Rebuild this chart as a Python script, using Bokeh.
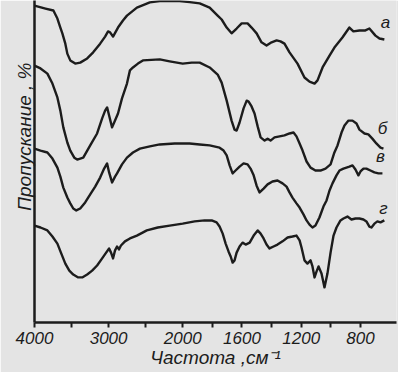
import numpy as np
from bokeh.plotting import figure
from bokeh.models import FixedTicker, Title, ColumnDataSource
from bokeh.core.properties import value
from bokeh.embed import file_html
from bokeh.resources import INLINE

# ---- data: wavenumber (cm-1) and transmittance (arbitrary %, curves offset) ----
wn_a = [4000, 3852, 3745, 3691, 3651, 3624, 3584, 3557, 3517, 3450, 3383, 3289, 3208, 3114, 3047, 3007,
        2980, 2940, 2873, 2806, 2752, 2618, 2443, 2309, 2041, 1953, 1885, 1818, 1764, 1737, 1703, 1670,
        1636, 1602, 1562, 1535, 1501, 1468, 1434, 1400, 1366, 1340, 1313, 1279, 1225, 1178, 1144, 1110,
        1090, 1056, 1009, 976, 922, 875, 848, 807, 767, 740, 699, 672, 639]
tr_a = [98.4, 97.5, 96.9, 94.4, 91.6, 89.8, 86.6, 83.5, 81.4, 80.4, 80.7, 82.0, 83.9, 86.6, 88.8, 90.4,
        90.1, 88.8, 91.6, 93.8, 95.3, 97.8, 99.4, 99.8, 99.8, 99.5, 99.1, 97.8, 95.3, 94.1, 91.6, 89.8,
        91.3, 92.9, 92.9, 91.6, 89.8, 87.0, 86.0, 87.0, 87.6, 87.3, 86.6, 83.9, 80.4, 76.1, 74.8, 74.2,
        75.2, 79.2, 82.9, 85.4, 88.5, 91.6, 90.4, 90.7, 90.7, 91.3, 89.1, 88.2, 87.9]

wn_b = [4000, 3919, 3826, 3758, 3691, 3651, 3611, 3557, 3517, 3463, 3423, 3342, 3248, 3155, 3087, 3047,
        3020, 2993, 2953, 2913, 2873, 2819, 2752, 2712, 2671, 2604, 2537, 2309, 2175, 2000, 1939, 1885,
        1818, 1764, 1737, 1703, 1670, 1650, 1636, 1616, 1589, 1568, 1555, 1535, 1515, 1494, 1474, 1447,
        1427, 1407, 1380, 1346, 1313, 1279, 1252, 1232, 1211, 1191, 1164, 1137, 1104, 1070, 1036, 1002,
        976, 955, 928, 908, 881, 854, 827, 807, 773, 747, 720, 693, 665, 645]
tr_b = [79.8, 78.9, 77.3, 74.2, 69.9, 65.8, 60.6, 55.9, 53.4, 51.2, 50.6, 51.2, 55.0, 58.7, 63.4, 65.8,
        66.8, 64.3, 60.6, 62.7, 64.9, 69.6, 74.2, 78.3, 79.2, 80.4, 81.4, 81.7, 81.1, 80.4, 80.7, 80.7,
        79.2, 77.0, 74.5, 68.9, 62.7, 59.9, 59.6, 62.1, 66.5, 68.9, 68.6, 67.1, 64.9, 60.9, 57.5, 56.5,
        57.1, 56.5, 57.5, 57.8, 58.1, 58.7, 59.0, 57.8, 55.6, 53.4, 50.0, 48.1, 47.2, 47.2, 47.8, 49.1,
        52.8, 55.0, 59.0, 61.2, 62.7, 62.7, 61.8, 59.9, 58.7, 58.4, 57.1, 55.6, 54.3, 54.0]

wn_c = [4000, 3919, 3826, 3758, 3691, 3651, 3611, 3557, 3517, 3477, 3436, 3383, 3316, 3248, 3181, 3114,
        3060, 3020, 2993, 2953, 2913, 2886, 2819, 2752, 2671, 2577, 2443, 2309, 2108, 1953, 1885, 1818,
        1751, 1724, 1703, 1683, 1663, 1643, 1616, 1589, 1562, 1542, 1521, 1501, 1481, 1454, 1427, 1394,
        1360, 1326, 1299, 1279, 1259, 1232, 1211, 1184, 1164, 1144, 1124, 1104, 1077, 1050, 1029, 1009,
        989, 962, 942, 915, 895, 875, 854, 834, 814, 800, 780, 760, 733, 706, 679, 652]
tr_c = [54.0, 53.4, 52.8, 50.9, 48.1, 45.3, 41.9, 38.8, 37.0, 35.4, 34.8, 35.4, 37.3, 39.8, 42.2, 45.0,
        47.8, 49.4, 46.6, 43.5, 45.3, 46.3, 49.1, 51.2, 52.8, 54.0, 54.7, 55.3, 55.6, 55.6, 55.3, 55.0,
        54.3, 53.4, 51.9, 48.8, 46.3, 47.2, 48.4, 49.4, 49.1, 47.8, 45.7, 42.5, 40.4, 41.6, 42.9, 43.8,
        44.1, 43.2, 42.2, 40.4, 38.8, 37.0, 35.7, 33.5, 31.7, 30.4, 29.5, 30.1, 32.6, 36.0, 37.9, 41.0,
        43.2, 45.7, 47.2, 47.8, 48.1, 48.4, 48.8, 47.5, 45.7, 46.9, 47.8, 47.8, 47.2, 46.6, 46.3, 46.3]

wn_d = [4000, 3919, 3826, 3758, 3691, 3638, 3584, 3530, 3477, 3410, 3356, 3289, 3222, 3155, 3087, 3033,
        2993, 2967, 2940, 2913, 2886, 2860, 2833, 2779, 2712, 2618, 2484, 2336, 2175, 2000, 1919, 1852,
        1804, 1771, 1751, 1730, 1710, 1690, 1676, 1663, 1650, 1636, 1616, 1596, 1575, 1548, 1521, 1494,
        1474, 1454, 1434, 1414, 1387, 1360, 1326, 1292, 1259, 1232, 1211, 1198, 1178, 1158, 1137, 1124,
        1110, 1097, 1083, 1063, 1043, 1023, 1002, 982, 962, 935, 915, 888, 861, 834, 807, 780, 760, 740,
        726, 706, 686, 665, 639]
tr_d = [30.1, 29.5, 28.6, 26.7, 24.5, 21.4, 18.3, 16.1, 14.9, 14.0, 14.0, 14.9, 16.1, 17.7, 19.9, 21.7,
        23.0, 21.7, 19.9, 22.4, 23.6, 22.7, 23.9, 25.2, 26.1, 27.0, 28.6, 29.5, 30.1, 30.7, 31.4, 31.7,
        31.7, 31.1, 29.8, 27.6, 24.5, 22.0, 20.5, 18.6, 19.3, 21.7, 23.6, 24.8, 24.2, 24.8, 27.0, 28.6,
        27.6, 26.1, 24.2, 23.0, 23.6, 24.2, 25.2, 26.4, 26.7, 27.0, 25.5, 23.3, 19.3, 18.3, 19.3, 17.4,
        14.0, 15.8, 17.4, 15.2, 10.9, 15.2, 21.7, 27.0, 29.5, 31.7, 32.3, 32.9, 32.0, 32.3, 32.3, 32.0, 31.4, 29.8,
        29.5, 30.7, 31.4, 31.1, 31.7]

curve_names = ["а", "б", "в", "г"]
label_wn = [632, 652, 665, 645]
label_tr = [93.2, 60.2, 51.6, 35.4]

major_wn = [4000, 3000, 2000, 1600, 1200, 800]
major_text = ["4000", "3000", "2000", "1600", "1200", "800"]
minor_wn = [3500, 2500, 1800, 1400, 1000]

# scale change at 2000 cm-1: region below 2000 is drawn at double scale
def to_u(w):
    w = np.asarray(w, dtype=float)
    return np.where(w >= 2000, (4000 - w) / 2.0, 1000 + (2000 - w))

BG = "#e4e4e4"
INK = "#1c1c1c"
FONT = "Liberation Sans"

p = figure(width=398, height=372, output_backend="svg", toolbar_location=None,
           x_range=(0, 2443), y_range=(0, 100),
           min_border_left=34, min_border_right=2, min_border_top=0, min_border_bottom=50,
           background_fill_color=BG, border_fill_color=BG)
p.outline_line_color = None
p.grid.visible = False

for w, t in [(wn_a, tr_a), (wn_b, tr_b), (wn_c, tr_c), (wn_d, tr_d)]:
    src = ColumnDataSource(dict(x=to_u(w), y=t))
    p.line("x", "y", source=src, line_color=INK, line_width=2.4, line_join="round")

p.text(x=to_u(label_wn), y=label_tr, text=curve_names, text_color=INK,
       text_font=value(FONT), text_font_style="italic", text_font_size="17px",
       text_align="center", text_baseline="middle")

major_u = [int(v) for v in to_u(major_wn)]
minor_u = [int(v) for v in to_u(minor_wn)]
xa = p.xaxis[0]
xa.ticker = FixedTicker(ticks=major_u, minor_ticks=minor_u)
xa.major_label_overrides = {u: s for u, s in zip(major_u, major_text)}
xa.major_tick_in = 0
xa.major_tick_out = 5
xa.minor_tick_in = 0
xa.minor_tick_out = 5
xa.major_tick_line_width = 2
xa.minor_tick_line_width = 2
xa.major_tick_line_color = INK
xa.minor_tick_line_color = INK
xa.axis_line_width = 2.5
xa.axis_line_color = INK
xa.major_label_standoff = 4
xa.major_label_text_font = FONT
xa.major_label_text_font_style = "italic"
xa.major_label_text_font_size = "17px"
xa.major_label_text_color = INK
xa.axis_label = "Частота ,см⁻¹"
xa.axis_label_standoff = 0
xa.axis_label_text_font = FONT
xa.axis_label_text_font_style = "italic"
xa.axis_label_text_font_size = "19px"
xa.axis_label_text_color = INK

ya = p.yaxis[0]
ya.ticker = FixedTicker(ticks=[])
ya.major_tick_line_color = None
ya.minor_tick_line_color = None
ya.major_tick_out = 0
ya.major_label_standoff = 0
ya.axis_line_width = 2.5
ya.axis_line_color = INK

p.add_layout(Title(text="Пропускание , %", align="right", offset=62, standoff=0,
                   text_font=FONT, text_font_style="italic", text_font_size="19px",
                   text_line_height=1.0, text_color=INK), "left")

open("out.html", "w").write(file_html(p, INLINE))
